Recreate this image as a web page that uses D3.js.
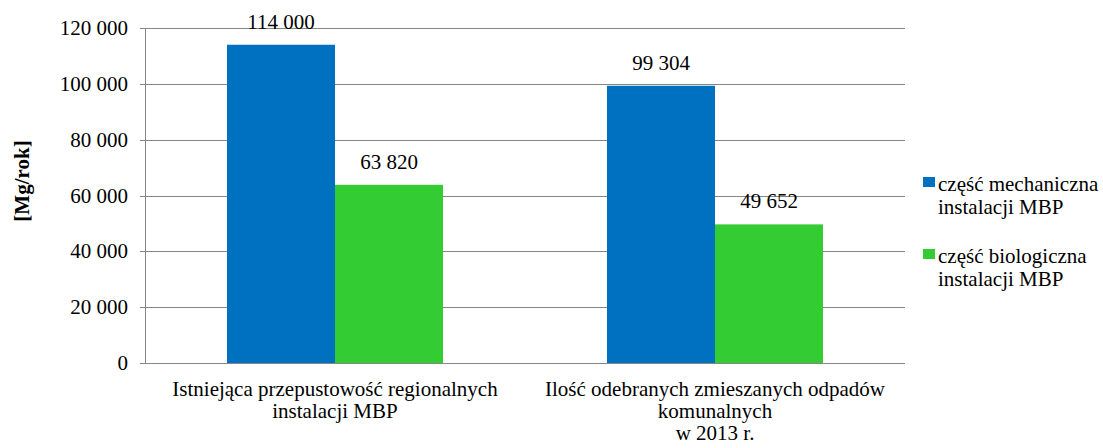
<!DOCTYPE html>
<html><head><meta charset="utf-8">
<script src="https://cdn.jsdelivr.net/npm/d3@7"></script>
<style>body{margin:0;background:#fff}svg{display:block}</style>
</head><body><svg id="c" width="1103" height="448"></svg>
<script>
const categories = [["Istniejąca przepustowość regionalnych","instalacji MBP"],["Ilość odebranych zmieszanych odpadów","komunalnych","w 2013 r."]];
const seriesNames = [["część mechaniczna","instalacji MBP"],["część biologiczna","instalacji MBP"]];
const mechaniczna = [114000, 99304];
const biologiczna = [63820, 49652];
const yTicks = [0,20000,40000,60000,80000,100000,120000];
const colors = ["#0070C0","#33CC33"];

const FONT = "Liberation Serif";
const FS = 21;
const svg = d3.select("#c");
const m = {l:145,r:905,t:28,b:363};
const fmt = v => d3.format(",")(v).replace(/,/g," ");
const x0 = d3.scaleBand().domain(d3.range(categories.length)).range([m.l,m.r]).paddingInner(0).paddingOuter(0);
const x1 = d3.scaleBand().domain([0,1]).range([0,x0.bandwidth()]).paddingInner(0).paddingOuter(82/108);
const y = d3.scaleLinear().domain([0,120000]).range([m.b,m.t]);

// grid
svg.append("g").selectAll("line").data(yTicks).join("line")
 .attr("x1",m.l-5).attr("x2",m.r).attr("y1",d=>Math.round(y(d))+0.5).attr("y2",d=>Math.round(y(d))+0.5)
 .attr("stroke","#868686").attr("stroke-width",1);
svg.append("line").attr("x1",m.l+0.5).attr("x2",m.l+0.5).attr("y1",m.t).attr("y2",m.b+0.5).attr("stroke","#868686");
// tick labels
svg.append("g").selectAll("text").data(yTicks).join("text")
 .attr("font-family",FONT).attr("font-size",FS)
 .attr("x",m.l-17).attr("y",d=>y(d)+7).attr("text-anchor","end").text(fmt);

const series = [mechaniczna, biologiczna];
series.forEach((s,si)=>{
  svg.append("g").selectAll("rect").data(s).join("rect")
   .attr("x",(d,i)=>x0(i)+x1(si)).attr("width",x1.bandwidth())
   .attr("y",d=>y(d)).attr("height",d=>y(0)-y(d)).attr("fill",colors[si]);
  svg.append("g").selectAll("text").data(s).join("text")
   .attr("font-family",FONT).attr("font-size",FS)
   .attr("x",(d,i)=>x0(i)+x1(si)+x1.bandwidth()/2).attr("y",d=>y(d)-16)
   .attr("text-anchor","middle").text(fmt);
});
// x labels
categories.forEach((lines,i)=>{
  const t = svg.append("text").attr("text-anchor","middle").attr("font-family",FONT).attr("font-size",FS);
  lines.forEach((ln,j)=>t.append("tspan").attr("x",x0(i)+x0.bandwidth()/2).attr("y",396+j*22).text(ln));
});
// y title
svg.append("text").attr("transform","translate(29,181) rotate(-90)").attr("text-anchor","middle")
 .attr("font-family",FONT).attr("font-size",FS).attr("font-weight","bold").text("[Mg/rok]");
// legend
seriesNames.forEach((lines,i)=>{
  const ly = 177 + i*72;
  svg.append("rect").attr("x",923).attr("y",ly).attr("width",12).attr("height",10).attr("fill",colors[i]);
  const t = svg.append("text").attr("font-family",FONT).attr("font-size",FS);
  lines.forEach((ln,j)=>t.append("tspan").attr("x",938).attr("y",ly+14+j*23).text(ln));
});
</script></body></html>
